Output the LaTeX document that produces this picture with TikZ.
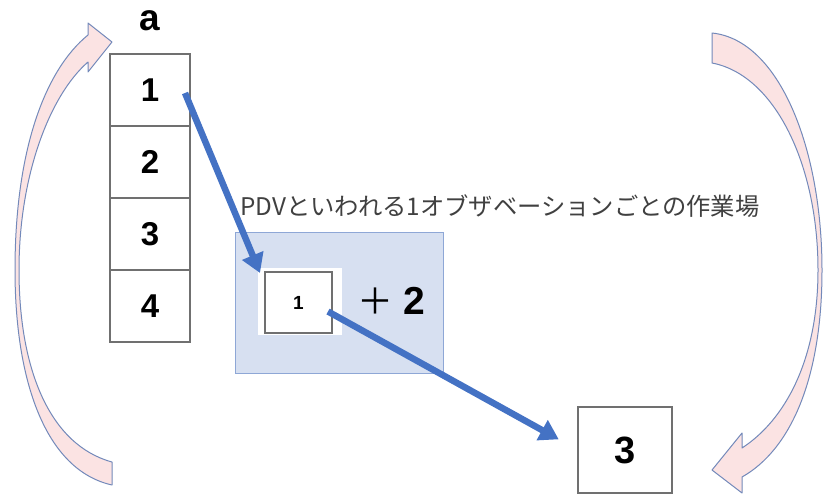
\documentclass[tikz,border=0pt]{standalone}
\usepackage{fontspec}
\setmainfont{Liberation Sans}
\newfontfamily\jpfont{Noto Sans CJK JP}
\usepackage{tikz}
\usetikzlibrary{arrows.meta,positioning,calc}
\definecolor{FlowBlue}{HTML}{4472C4}
\definecolor{LoopPink}{HTML}{FBE3E3}
\definecolor{LoopEdge}{HTML}{7389BA}
\definecolor{WorkFill}{HTML}{D7E0F1}
\definecolor{WorkEdge}{HTML}{8EA7D6}
\definecolor{CellEdge}{HTML}{707070}

\begin{document}
\begin{tikzpicture}[x=1pt, y=-1pt,
  cell/.style={draw=CellEdge, line width=1.2pt, fill=white, minimum width=80pt,
               minimum height=72pt, inner sep=0pt, outer sep=0pt,
               font=\fontsize{33}{36}\selectfont\bfseries},
  flow/.style={-{Triangle[length=19pt, width=22pt]}, line width=6.5pt, FlowBlue},
  loop/.style={fill=LoopPink, draw=LoopEdge, line width=1pt, line join=round}
]
  \useasboundingbox (0,0) rectangle (824,496);

  % loop arrows on both sides
  \path[loop] (112,485) .. controls (45,470) and (15,380) .. (15,270)
    .. controls (15,150) and (45,70) .. (88,35) -- (88,23) -- (112,42)
    -- (88,72) -- (88,62) .. controls (50,95) and (19,175) .. (19,270)
    .. controls (19,370) and (50,445) .. (112,462) -- cycle;
  \path[loop] (712,33) .. controls (780,40) and (822,150) .. (822,270)
    .. controls (822,380) and (790,450) .. (742,477) -- (742,493)
    -- (712,470) -- (742,433) -- (742,448) .. controls (785,420) and (818,360) .. (818,270)
    .. controls (818,165) and (775,75) .. (712,63) -- cycle;

  % column a
  \node[font=\fontsize{37}{38}\selectfont\bfseries] (alabel) at (150,21) {a};
  \node[cell] (c1) at (150,90)  {1};
  \node[cell] (c2) at (150,162) {2};
  \node[cell] (c3) at (150,234) {3};
  \node[cell] (c4) at (150,306) {4};

  % PDV work area
  \node[anchor=west, text=black!75, font=\jpfont\fontsize{24.3}{26}\selectfont]
    (wslabel) at (237,206) {PDVといわれる1オブザベーションごとの作業場};
  \node[draw=WorkEdge, line width=1pt, fill=WorkFill, minimum width=208pt,
        minimum height=141pt, inner sep=0pt] (ws) at (339,302.5) {};
  \node[fill=white, minimum width=84pt, minimum height=67pt, inner sep=0pt]
    (pad) at (300,301.5) {};
  \node[cell, minimum width=67pt, minimum height=61pt,
        font=\fontsize{19}{20}\selectfont\bfseries] (one) at (298.5,302.5) {1};
  \node[anchor=west, inner sep=0pt] (plus) at (357,301)
    {\fontsize{36}{38}\selectfont\jpfont ＋\hspace{10pt}\fontsize{39}{40}\selectfont\fontspec{Liberation Sans}\bfseries 2};

  % result
  \node[cell, minimum width=94pt, minimum height=86pt,
        font=\fontsize{38}{40}\selectfont\bfseries] (three) at (625,450) {3};

  % data flow
  \draw[flow] ($(c1.east)+(-5,3)$) -- ($(one.north west)+(-5,1)$);
  \draw[flow, shorten >=22pt] ($(one.east)+(-4,9)$) -- (three.west);
\end{tikzpicture}
\end{document}
